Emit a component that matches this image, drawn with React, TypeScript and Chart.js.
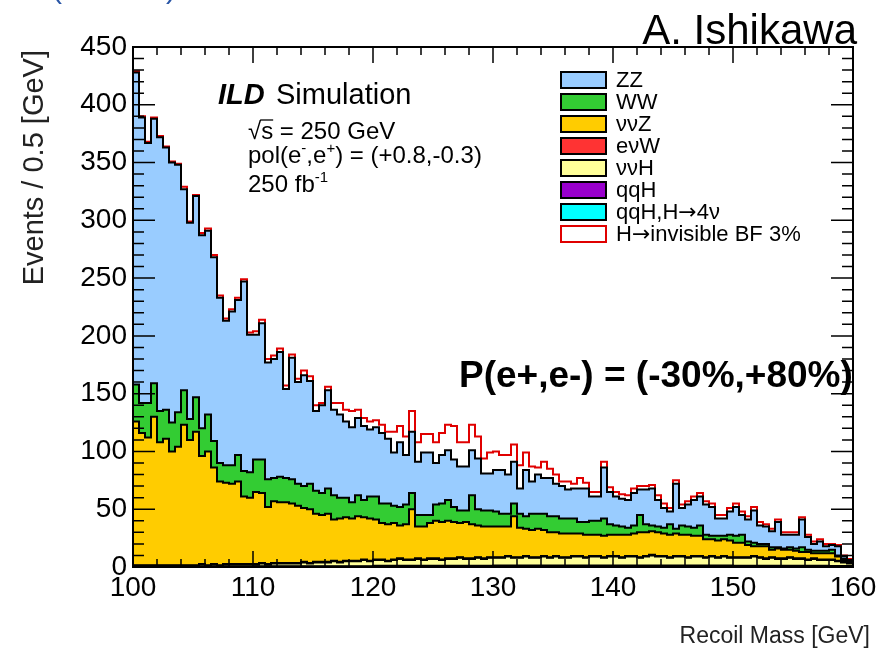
import React, { useEffect, useRef } from "react";
import { Chart, registerables } from "chart.js";

Chart.register(...registerables);

const FONT = '"Liberation Sans", Arial, Helvetica, sans-serif';
const ARROW_FONT = '"DejaVu Sans", sans-serif';

// ---- axes ----
const MASS_MIN = 100;
const MASS_MAX = 160;
const BIN_WIDTH = 0.5;
const X_TICK_STEP = 10;
const X_MINOR_STEP = 2;
const Y_MAX = 450;
const Y_TICK_STEP = 50;
const Y_MINOR_STEP = 10;

// ---- stacked histogram levels (cumulative stack tops, events / 0.5 GeV), bins 100.0 ... 159.5 ----
const ZZ_TOP = [
  428, 389, 367, 388, 372, 363, 350, 348, 327, 298,
  321, 287, 291, 268, 233, 213, 221, 231, 247, 201,
  201, 211, 177, 180, 186, 154, 181, 160, 166, 161,
  135, 140, 153, 136, 132, 126, 121, 129, 122, 119,
  121, 116, 111, 99, 108, 97, 117, 91, 99, 99,
  90, 97, 101, 93, 87, 87, 101, 94, 81, 81,
  84, 84, 80, 91, 68, 84, 74, 80, 77, 77,
  72, 70, 67, 68, 68, 68, 61, 61, 86, 65,
  61, 59, 58, 64, 67, 67, 68, 58, 51, 48,
  72, 51, 54, 58, 61, 54, 52, 42, 42, 48,
  52, 45, 41, 49, 36, 35, 31, 39, 28, 28,
  28, 41, 26, 20, 22, 18, 19, 18, 9, 6,
];

const WW_TOP = [
  158, 142, 142, 159, 135, 136, 125, 134, 153, 128,
  147, 120, 132, 109, 90, 88, 88, 97, 83, 82,
  93, 93, 76, 77, 78, 77, 76, 72, 70, 72,
  66, 64, 68, 62, 60, 60, 56, 62, 58, 61,
  61, 55, 55, 53, 52, 54, 64, 45, 45, 45,
  54, 55, 58, 52, 49, 49, 62, 50, 49, 49,
  48, 46, 46, 55, 46, 44, 46, 46, 46, 44,
  44, 42, 42, 42, 39, 39, 40, 40, 42, 37,
  36, 35, 34, 36, 45, 37, 36, 35, 34, 37,
  33, 36, 35, 34, 36, 28, 27, 27, 27, 28,
  27, 28, 22, 21, 20, 20, 17, 17, 16, 17,
  16, 17, 15, 14, 14, 14, 15, 10, 7, 5,
];

const VVZ_TOP = [
  126, 116, 112, 130, 108, 111, 100, 104, 123, 110,
  117, 96, 100, 86, 74, 73, 72, 74, 61, 60,
  65, 64, 52, 57, 56, 56, 55, 53, 51, 50,
  46, 45, 46, 41, 42, 43, 42, 44, 43, 42,
  41, 38, 37, 38, 36, 37, 50, 35, 35, 38,
  40, 39, 40, 39, 38, 39, 37, 36, 35, 35,
  35, 35, 35, 44, 34, 33, 32, 33, 32, 30,
  30, 29, 29, 29, 29, 28, 28, 28, 27, 28,
  28, 28, 28, 29, 30, 30, 31, 30, 29, 28,
  29, 28, 28, 27, 27, 24, 24, 23, 24, 23,
  21, 21, 19, 18, 18, 18, 15, 16, 15, 15,
  14, 13, 13, 12, 12, 12, 12, 9, 6, 4,
];

const EVW_TOP = [
  1.5, 1.5, 1.5, 1.5, 1.5, 1.5, 1.5, 1.5, 1.5, 1.5,
  1.5, 2.5, 1.5, 2.5, 1.5, 2.5, 2.5, 2.5, 2.5, 2.5,
  2.5, 3.5, 2.5, 3.5, 3.5, 3.5, 3.5, 3.5, 4.5, 3.5,
  4.5, 4.5, 4.5, 5.5, 4.5, 5.5, 5.5, 5.5, 6.5, 5.5,
  6.5, 6.5, 5.5, 6.5, 7.5, 6.5, 6.5, 7.5, 6.5, 7.5,
  7.5, 6.5, 7.5, 7.5, 8.5, 7.5, 7.5, 8.5, 7.5, 8.5,
  8.5, 8.5, 9.5, 8.5, 8.5, 9.5, 8.5, 8.5, 9.5, 8.5,
  9.5, 8.5, 8.5, 9.5, 9.5, 8.5, 9.5, 9.5, 8.5, 9.5,
  9.5, 8.5, 9.5, 9.5, 8.5, 9.5, 10.5, 9.5, 9.5, 8.5,
  9.5, 9.5, 8.5, 9.5, 9.5, 8.5, 9.5, 8.5, 9.5, 8.5,
  8.5, 8.5, 8.5, 9.5, 8.5, 7.5, 8.5, 7.5, 7.5, 8.5,
  7.5, 7.5, 6.5, 7.5, 6.5, 6.5, 6.5, 5.5, 4.5, 3.5,
];

const VVH_TOP = [
  1, 1, 1, 1, 1, 1, 1, 1, 1, 1,
  1, 2, 1, 2, 1, 2, 2, 2, 2, 2,
  2, 3, 2, 3, 3, 3, 3, 3, 4, 3,
  4, 4, 4, 5, 4, 5, 5, 5, 6, 5,
  6, 6, 5, 6, 7, 6, 6, 7, 6, 7,
  7, 6, 7, 7, 8, 7, 7, 8, 7, 8,
  8, 8, 9, 8, 8, 9, 8, 8, 9, 8,
  9, 8, 8, 9, 9, 8, 9, 9, 8, 9,
  9, 8, 9, 9, 8, 9, 10, 9, 9, 8,
  9, 9, 8, 9, 9, 8, 9, 8, 9, 8,
  8, 8, 8, 9, 8, 7, 8, 7, 7, 8,
  7, 7, 6, 7, 6, 6, 6, 5, 4, 3,
];

const QQH_TOP = [
  0.5, 0.5, 0.5, 0.5, 0.5, 0.5, 0.5, 0.5, 0.5, 0.5,
  0.5, 0.5, 0.5, 0.5, 0.5, 0.5, 0.5, 0.5, 0.5, 0.5,
  0.7, 0.7, 0.7, 0.7, 0.7, 0.7, 0.7, 0.7, 0.7, 0.7,
  0.7, 0.7, 0.7, 0.7, 0.7, 0.7, 0.7, 0.7, 0.7, 0.7,
  1.0, 1.0, 1.0, 1.0, 1.0, 1.0, 1.0, 1.0, 1.0, 1.0,
  1.0, 1.0, 1.0, 1.0, 1.0, 1.0, 1.0, 1.0, 1.0, 1.0,
  1.2, 1.2, 1.2, 1.2, 1.2, 1.2, 1.2, 1.2, 1.2, 1.2,
  1.2, 1.2, 1.2, 1.2, 1.2, 1.2, 1.2, 1.2, 1.2, 1.2,
  1.2, 1.2, 1.2, 1.2, 1.2, 1.2, 1.2, 1.2, 1.2, 1.2,
  1.2, 1.2, 1.2, 1.2, 1.2, 1.2, 1.2, 1.2, 1.2, 1.2,
  1.0, 1.0, 1.0, 1.0, 1.0, 1.0, 1.0, 1.0, 1.0, 1.0,
  1.0, 1.0, 1.0, 1.0, 1.0, 1.0, 0.8, 0.8, 0.8, 0.8,
];

const H4V_TOP = [
  0.2, 0.2, 0.2, 0.2, 0.2, 0.2, 0.2, 0.2, 0.2, 0.2,
  0.2, 0.2, 0.2, 0.2, 0.2, 0.2, 0.2, 0.2, 0.2, 0.2,
  0.2, 0.2, 0.2, 0.2, 0.2, 0.2, 0.2, 0.2, 0.2, 0.2,
  0.2, 0.2, 0.2, 0.2, 0.2, 0.2, 0.2, 0.2, 0.2, 0.2,
  0.3, 0.3, 0.3, 0.3, 0.3, 0.3, 0.3, 0.3, 0.3, 0.3,
  0.3, 0.3, 0.3, 0.3, 0.3, 0.3, 0.3, 0.3, 0.3, 0.3,
  0.3, 0.3, 0.3, 0.3, 0.3, 0.3, 0.3, 0.3, 0.3, 0.3,
  0.3, 0.3, 0.3, 0.3, 0.3, 0.3, 0.3, 0.3, 0.3, 0.3,
  0.3, 0.3, 0.3, 0.3, 0.3, 0.3, 0.3, 0.3, 0.3, 0.3,
  0.3, 0.3, 0.3, 0.3, 0.3, 0.3, 0.3, 0.3, 0.3, 0.3,
  0.3, 0.3, 0.3, 0.3, 0.3, 0.3, 0.3, 0.3, 0.3, 0.3,
  0.3, 0.3, 0.3, 0.3, 0.3, 0.3, 0.3, 0.3, 0.3, 0.3,
];

// H -> invisible (BF 3%) signal, stacked on top of the total background
const H_INVISIBLE = [
  1, 1, 1, 1, 1, 1, 1, 1, 2, 1,
  1, 2, 2, 2, 2, 2, 2, 2, 2, 2,
  3, 3, 3, 3, 3, 3, 3, 3, 4, 4,
  5, 2, 3, 6, 10, 10, 14, 7, 7, 7,
  6, 7, 6, 18, 14, 16, 18, 17, 16, 16,
  18, 19, 22, 29, 21, 21, 22, 19, 13, 18,
  16, 13, 17, 15, 20, 15, 13, 6, 14, 8,
  8, 4, 7, 4, 9, 5, 4, 4, 5, 4,
  4, 4, 4, 4, 3, 3, 3, 4, 4, 3,
  3, 3, 3, 3, 3, 3, 3, 3, 3, 3,
  3, 3, 3, 3, 3, 2, 2, 2, 2, 2,
  2, 2, 2, 2, 2, 2, 1, 1, 1, 1,
];

const LAYERS = [
  { label: "qqH,H\u21924\u03bd", top: H4V_TOP, color: "#00ffff" },
  { label: "qqH", top: QQH_TOP, color: "#9900cc" },
  { label: "\u03bd\u03bdH", top: VVH_TOP, color: "#ffff99" },
  { label: "e\u03bdW", top: EVW_TOP, color: "#ff3333" },
  { label: "\u03bd\u03bdZ", top: VVZ_TOP, color: "#ffcc00" },
  { label: "WW", top: WW_TOP, color: "#33cc33" },
  { label: "ZZ", top: ZZ_TOP, color: "#99ccff" },
];
const SIGNAL_LABEL = "H\u2192invisible BF 3%";
const SIGNAL_COLOR = "#e00000";

function toSteps(values: number[]) {
  const pts = values.map((v, i) => ({ x: MASS_MIN + i * BIN_WIDTH, y: v }));
  pts.push({ x: MASS_MAX, y: values[values.length - 1] });
  return pts;
}

function drawParts(ctx: CanvasRenderingContext2D, parts: { t: string; sup?: boolean }[], x: number, y: number, size: number) {
  let cx = x;
  for (const p of parts) {
    if (p.sup) {
      ctx.font = `${Math.round(size * 0.62)}px ${FONT}`;
      ctx.fillText(p.t, cx, y - size * 0.42);
    } else {
      ctx.font = `${size}px ${FONT}`;
      ctx.fillText(p.t, cx, y);
    }
    cx += ctx.measureText(p.t).width;
  }
}

// text where the arrow glyph is taken from DejaVu Sans (long, ROOT-like arrow)
function drawArrowText(ctx: CanvasRenderingContext2D, text: string, x: number, y: number, size: number) {
  const pieces = text.split("\u2192");
  let cx = x;
  pieces.forEach((piece, i) => {
    if (i > 0) {
      ctx.font = `${size}px ${ARROW_FONT}`;
      ctx.fillText("\u2192", cx, y);
      cx += ctx.measureText("\u2192").width;
    }
    ctx.font = `${size}px ${FONT}`;
    ctx.fillText(piece, cx, y);
    cx += ctx.measureText(piece).width;
  });
}

const decorations = {
  id: "decorations",
  beforeDraw(chart: any) {
    const ctx = chart.ctx;
    ctx.save();
    ctx.fillStyle = "#ffffff";
    ctx.fillRect(0, 0, chart.width, chart.height);
    ctx.restore();
  },
  afterDatasetsDraw(chart: any) {
    const ctx: CanvasRenderingContext2D = chart.ctx;
    const { left, right, top, bottom } = chart.chartArea;
    const xs = chart.scales.x;
    const ys = chart.scales.y;
    ctx.save();
    ctx.strokeStyle = "#000";
    ctx.lineWidth = 1.5;
    ctx.beginPath();
    for (let v = MASS_MIN; v <= MASS_MAX + 1e-9; v += X_MINOR_STEP) {
      const px = xs.getPixelForValue(v);
      const len = Math.abs(v % X_TICK_STEP) < 1e-9 ? 16 : 8;
      ctx.moveTo(px, bottom);
      ctx.lineTo(px, bottom - len);
      ctx.moveTo(px, top);
      ctx.lineTo(px, top + len);
    }
    for (let v = 0; v <= Y_MAX + 1e-9; v += Y_MINOR_STEP) {
      const py = ys.getPixelForValue(v);
      const len = v % Y_TICK_STEP === 0 ? 22 : 11;
      ctx.moveTo(left, py);
      ctx.lineTo(left + len, py);
      ctx.moveTo(right, py);
      ctx.lineTo(right - len, py);
    }
    ctx.stroke();
    ctx.lineWidth = 2;
    ctx.strokeRect(left, top, right - left, bottom - top);
    ctx.restore();
  },
  afterDraw(chart: any) {
    const ctx: CanvasRenderingContext2D = chart.ctx;
    ctx.save();
    ctx.fillStyle = "#000";
    ctx.textBaseline = "alphabetic";
    ctx.textAlign = "left";

    // ILD Simulation
    ctx.font = `italic bold 29px ${FONT}`;
    ctx.fillText("ILD", 218, 104);
    ctx.font = `29px ${FONT}`;
    ctx.fillText("Simulation", 276, 104);

    // sqrt(s) line
    ctx.font = `24px ${FONT}`;
    const rootW = ctx.measureText("\u221a").width;
    const sW = ctx.measureText("s").width;
    ctx.fillText("\u221as = 250 GeV", 248, 139);
    ctx.lineWidth = 1.3;
    ctx.strokeStyle = "#000";
    ctx.beginPath();
    ctx.moveTo(248 + rootW - 1, 139 - 19);
    ctx.lineTo(248 + rootW + sW, 139 - 19);
    ctx.stroke();

    drawParts(ctx, [{ t: "pol(e" }, { t: "-", sup: true }, { t: ",e" }, { t: "+", sup: true }, { t: ") = (+0.8,-0.3)" }], 248, 163, 24);
    drawParts(ctx, [{ t: "250 fb" }, { t: "-1", sup: true }], 248, 192, 24);

    // polarisation label
    ctx.font = `bold 37px ${FONT}`;
    ctx.fillText("P(e+,e-) = (-30%,+80%)", 459, 387);

    // legend
    const entries = [...LAYERS].reverse().map((l) => ({ label: l.label, fill: l.color, stroke: "#000" }));
    entries.push({ label: SIGNAL_LABEL, fill: "#ffffff", stroke: SIGNAL_COLOR });
    entries.forEach((e, i) => {
      const cy = 80 + i * 22;
      ctx.fillStyle = e.fill;
      ctx.fillRect(561, cy - 8, 45, 16);
      ctx.strokeStyle = e.stroke;
      ctx.lineWidth = 2;
      ctx.strokeRect(561, cy - 8, 45, 16);
      ctx.fillStyle = "#000";
      ctx.textBaseline = "middle";
      drawArrowText(ctx, e.label, 616, cy + 1, 22);
    });
    ctx.textBaseline = "alphabetic";

    // author
    ctx.fillStyle = "#000";
    ctx.textAlign = "right";
    ctx.font = `42px ${FONT}`;
    ctx.fillText("A. Ishikawa", 857, 44);

    // x title
    ctx.font = `23px ${FONT}`;
    ctx.fillStyle = "#222";
    ctx.fillText("Recoil Mass [GeV]", 870, 643);

    // y title
    ctx.save();
    ctx.translate(35, 50);
    ctx.rotate(-Math.PI / 2);
    ctx.textAlign = "right";
    ctx.textBaseline = "middle";
    ctx.font = `29px ${FONT}`;
    ctx.fillStyle = "#222";
    ctx.fillText("Events / 0.5 [GeV]", 0, 0);
    ctx.restore();

    // cut-off blue heading at the very top
    ctx.textAlign = "left";
    ctx.fillStyle = "#2a56a6";
    ctx.font = `30px ${FONT}`;
    ctx.fillText("(", 52, -2);
    ctx.fillText(")", 166, -2);

    ctx.restore();
  },
};

export default function App() {
  const canvasRef = useRef<HTMLCanvasElement | null>(null);

  useEffect(() => {
    const canvas = canvasRef.current;
    if (!canvas) return;

    const datasets: any[] = LAYERS.map((l, i) => ({
      label: l.label,
      data: toSteps(l.top),
      stepped: true,
      fill: i === 0 ? "origin" : "-1",
      backgroundColor: l.color,
      borderColor: "#000",
      borderWidth: 2,
      pointRadius: 0,
      tension: 0,
      order: 0,
    }));
    datasets.push({
      label: SIGNAL_LABEL,
      data: toSteps(ZZ_TOP.map((v, i) => v + H_INVISIBLE[i])),
      stepped: true,
      fill: false,
      borderColor: SIGNAL_COLOR,
      borderWidth: 2,
      pointRadius: 0,
      tension: 0,
      order: 1,
    });

    const chart = new Chart(canvas, {
      type: "line",
      data: { datasets },
      options: {
        animation: false,
        responsive: false,
        maintainAspectRatio: false,
        devicePixelRatio: 1,
        events: [],
        layout: { padding: { top: 47, right: 34, left: 0, bottom: 0 } },
        plugins: {
          legend: { display: false },
          tooltip: { enabled: false },
          filler: { drawTime: "beforeDatasetsDraw" },
        },
        scales: {
          x: {
            type: "linear",
            min: MASS_MIN,
            max: MASS_MAX,
            grid: { display: false, drawTicks: false },
            border: { display: false },
            ticks: {
              stepSize: X_TICK_STEP,
              autoSkip: false,
              maxRotation: 0,
              padding: 4,
              color: "#000",
              font: { family: FONT, size: 28 },
            },
            afterFit: (s: any) => {
              s.height = 82;
            },
          },
          y: {
            type: "linear",
            min: 0,
            max: Y_MAX,
            grid: { display: false, drawTicks: false },
            border: { display: false },
            ticks: {
              stepSize: Y_TICK_STEP,
              autoSkip: false,
              padding: 6,
              color: "#000",
              font: { family: FONT, size: 28 },
            },
            afterFit: (s: any) => {
              s.width = 133;
            },
          },
        },
      } as any,
      plugins: [decorations],
    });

    return () => chart.destroy();
  }, []);

  return (
    <div style={{ position: "absolute", left: 0, top: 0, width: 887, height: 649, background: "#fff" }}>
      <canvas ref={canvasRef} width={887} height={649} style={{ display: "block" }} />
    </div>
  );
}
